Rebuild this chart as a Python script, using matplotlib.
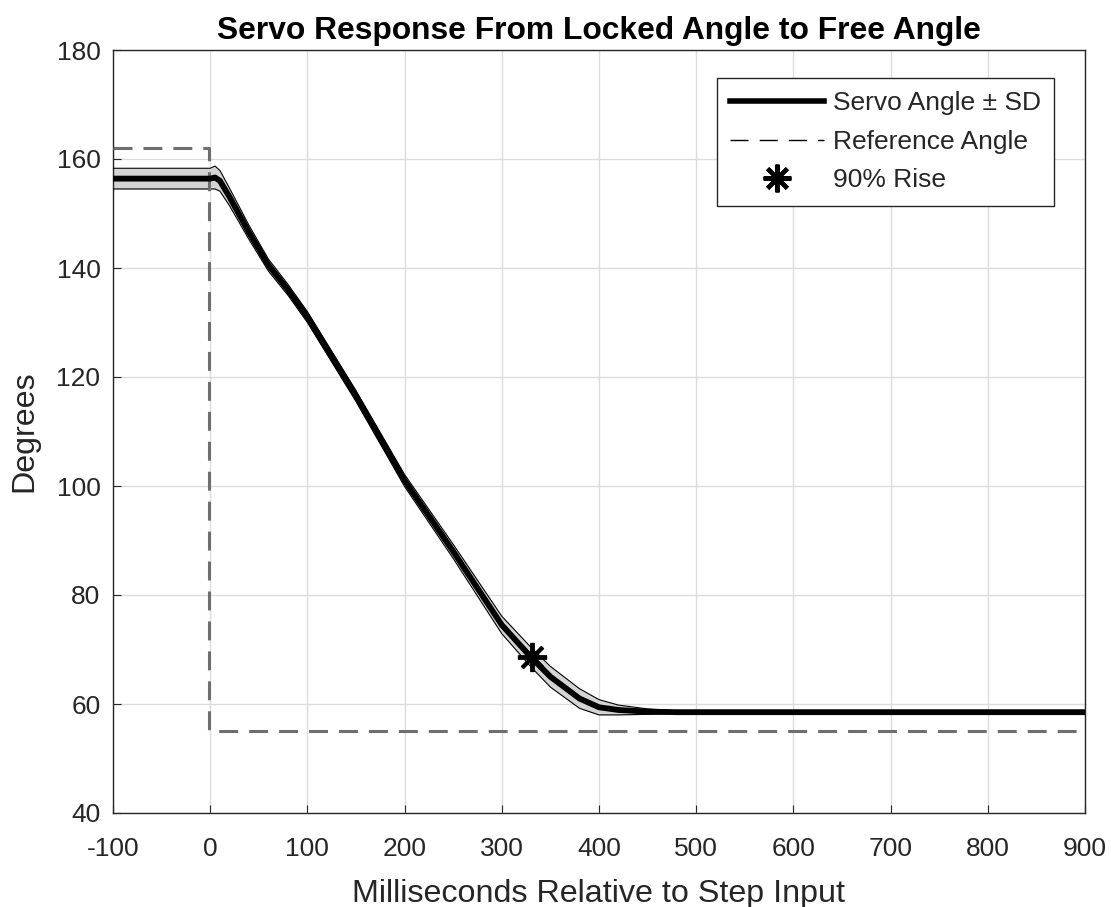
import matplotlib
matplotlib.use("Agg")
import matplotlib.pyplot as plt
import numpy as np
from matplotlib.lines import Line2D

plt.rcParams['font.family'] = ['Liberation Sans', 'DejaVu Sans']
plt.rcParams['axes.unicode_minus'] = False

# Data
time_ms = [-100, 0, 5, 10, 20, 40, 60, 80, 100, 150, 200, 250, 300, 330, 350, 380, 400, 420, 450, 480, 500, 900]
mean_deg = [156.4, 156.4, 156.6, 156.0, 153.0, 146.5, 140.5, 136.0, 131.0, 116.5, 101.0, 88.0, 74.5, 68.6, 65.0, 61.0, 59.4, 58.9, 58.6, 58.5, 58.5, 58.5]
sd_deg = [1.9, 1.9, 2.1, 1.9, 1.6, 1.3, 1.1, 1.0, 1.0, 1.0, 1.1, 1.3, 1.6, 1.8, 1.9, 1.8, 1.4, 0.9, 0.5, 0.25, 0.15, 0.15]

ref_time = [-100, -1, -1, 900]
ref_deg = [162, 162, 55, 55]

rise_time = [331]
rise_deg = [68.6]

xticks = list(range(-100, 901, 100))
yticks = list(range(40, 181, 20))

fig = plt.figure(figsize=(11.11, 9.07), dpi=100)
ax = fig.add_axes([113/1111, 1-813/907, (1085-113)/1111, (813-50)/907])

t = np.array(time_ms)
m = np.array(mean_deg)
s = np.array(sd_deg)

ax.fill_between(t, m - s, m + s, color='#d4d4d4', linewidth=0, zorder=2)
ax.plot(t, m + s, color='black', lw=0.8, zorder=3)
ax.plot(t, m - s, color='black', lw=0.8, zorder=3)
ax.plot(t, m, color='black', lw=4.2, zorder=4)
ax.plot(ref_time, ref_deg, color='#6e6e6e', lw=2.2, ls=(0, (6.2, 3.6)), zorder=3)
ax.plot(rise_time, rise_deg, ls='none', marker=(8, 2, 0), ms=21, mew=2.8, color='black', zorder=5)

ax.set_xlim(-100, 900)
ax.set_ylim(40, 180)
ax.set_xticks(xticks)
ax.set_yticks(yticks)
ax.grid(True, color='#dcdcdc', lw=1)
ax.set_axisbelow(True)
ax.tick_params(direction='in', labelsize=19, length=6, colors='#262626')
ax.tick_params(axis='x', pad=17)
ax.tick_params(axis='y', pad=9)
for sp in ax.spines.values():
    sp.set_color('#262626')
    sp.set_linewidth(1)

ax.set_xlabel('Milliseconds Relative to Step Input', fontsize=23.2, color='#262626', labelpad=13)
ax.set_ylabel('Degrees', fontsize=23.2, color='#262626', labelpad=12)
ax.set_title('Servo Response From Locked Angle to Free Angle', fontsize=22.9, fontweight='bold', pad=8)

handles = [
    Line2D([], [], color='black', lw=4),
    Line2D([], [], color='black', lw=1, ls=(0, (13, 8))),
    Line2D([], [], color='black', ls='none', marker=(8, 2, 0), ms=20, mew=3),
]
labels = ['Servo Angle ± SD', 'Reference Angle', '90% Rise']
leg = ax.legend(handles, labels, loc='upper right', bbox_to_anchor=(0.968, 0.963),
                fontsize=19, frameon=True, fancybox=False, edgecolor='#262626',
                handlelength=3.55, handletextpad=0.34, borderpad=0.5, labelspacing=0.55,
                borderaxespad=0, framealpha=1)
leg.get_frame().set_linewidth(1)
for txt in leg.get_texts():
    txt.set_color('#262626')

fig.savefig('out.png', dpi=100)
